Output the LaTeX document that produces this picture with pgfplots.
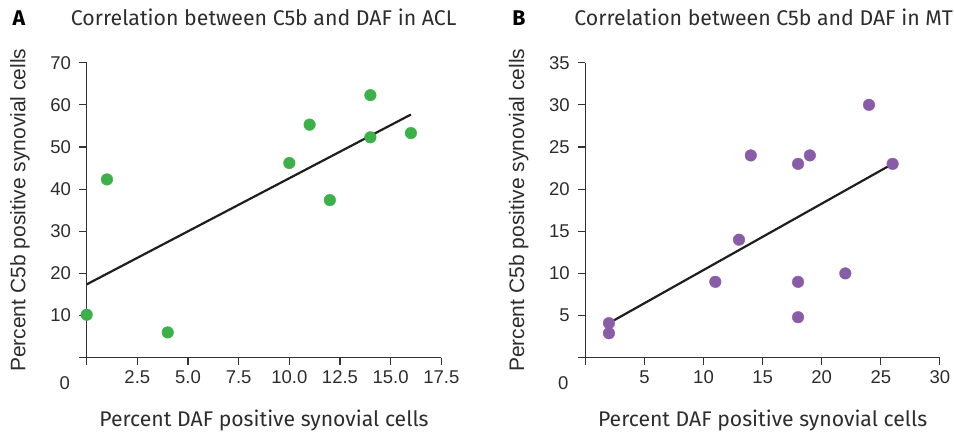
\documentclass[border=0pt]{standalone}
\usepackage{fontspec}
\setmainfont{Liberation Sans}
\newfontfamily\fira{Fira Sans}
\usepackage{pgfplots}
\pgfplotsset{compat=1.18}
\definecolor{dotgreen}{RGB}{60,176,73}
\definecolor{dotpurple}{RGB}{137,92,168}
\definecolor{axgray}{RGB}{51,51,51}
\definecolor{txt}{RGB}{45,45,45}

\pgfplotsset{
  panel/.style={
    scale only axis,
    width=354.6pt, height=295pt,
    axis lines=left,
    axis line style={-, line width=1.1pt, axgray},
    tick style={line width=1.1pt, axgray},
    major tick length=7.5pt,
    tick align=outside,
    clip=false,
    ymin=0,
    tick label style={font=\fontsize{18.5}{20}\selectfont, text=txt},
    xticklabel style={inner sep=0pt, anchor=north, yshift=-5pt},
    yticklabel style={inner sep=0pt, anchor=east, xshift=-8pt},
    xlabel style={font=\fira\fontsize{21.2}{24}\selectfont, text=txt,
      at={(axis description cs:0.5,-0.2112)}, anchor=center},
    ylabel style={font=\fontsize{21}{24}\selectfont, text=txt,
      at={(axis description cs:-0.1881,0.5)}, anchor=center, rotate=0},
    xlabel={Percent DAF positive synovial cells},
    ylabel={Percent C5b positive synovial cells},
  },
  fitline/.style={no marks, line width=2.2pt, color=black!88},
}
\tikzset{
  ttl/.style={font=\fira\fontsize{21.3}{24}\selectfont, text=txt, anchor=base west, inner sep=0pt},
  letter/.style={font=\fira\bfseries\fontsize{21.3}{24}\selectfont, text=black, anchor=base west, inner sep=0pt},
}

\begin{document}
\begin{tikzpicture}
\useasboundingbox (0,0) rectangle (954pt,433pt);

% Panel A: ACL
\begin{axis}[panel, at={(86.7pt,75.3pt)}, anchor=south west,
  xmin=0, xmax=17.5, ymax=70,
  xtick={0,2.5,5,7.5,10,12.5,15,17.5},
  xticklabels={,2.5,5.0,7.5,10.0,12.5,15.0,17.5},
  ytick={0,10,20,30,40,50,60,70},
  yticklabels={,10,20,30,40,50,60,70}]
\addplot[only marks, color=dotgreen, mark=*, mark size=5.8pt, mark options={draw=dotgreen, fill=dotgreen}]
  coordinates {(0,10.2) (1,42.3) (4,6.0) (10,46.2) (11,55.3) (12,37.4) (14,62.3) (14,52.3) (16,53.3)};
\addplot[fitline] coordinates {(0,17.4) (16,57.7)};
\node[font=\fontsize{18.5}{20}\selectfont, text=txt] at (axis description cs:-0.062,-0.086) {0};
\node[letter] at (axis description cs:-0.2098,1.1261) {A};
\node[ttl] at (axis description cs:-0.0451,1.1261) {Correlation between C5b and DAF in ACL};
\end{axis}

% Panel B: MT
\begin{axis}[panel, at={(585.3pt,75.3pt)}, anchor=south west,
  xmin=0, xmax=30, ymax=35,
  xtick={0,5,10,15,20,25,30},
  xticklabels={,5,10,15,20,25,30},
  ytick={0,5,10,15,20,25,30,35},
  yticklabels={,5,10,15,20,25,30,35}]
\addplot[only marks, color=dotpurple, mark=*, mark size=5.8pt, mark options={draw=dotpurple, fill=dotpurple}]
  coordinates {(2,4.1) (2,2.9) (11,9.0) (13,14.0) (14,24.0) (18,23.0) (19,24.0) (18,9.0) (18,4.8) (22,10.0) (24,30.0) (26,23.0)};
\addplot[fitline] coordinates {(2,4.1) (26,23.0)};
\node[font=\fontsize{18.5}{20}\selectfont, text=txt] at (axis description cs:-0.062,-0.086) {0};
\node[letter] at (axis description cs:-0.2059,1.1261) {B};
\node[ttl] at (axis description cs:-0.0311,1.1261) {Correlation between C5b and DAF in MT};
\end{axis}
\end{tikzpicture}
\end{document}
